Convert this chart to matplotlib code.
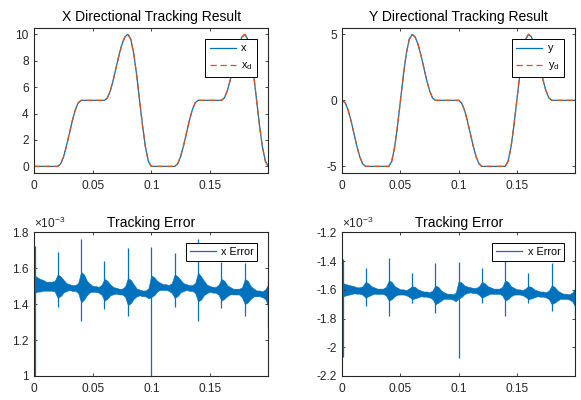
import numpy as np
import matplotlib
matplotlib.use("Agg")
import matplotlib.pyplot as plt
from matplotlib.lines import Line2D

plt.rcParams['font.family'] = ['Liberation Sans', 'DejaVu Sans']
plt.rcParams['mathtext.fontset'] = 'custom'
plt.rcParams['mathtext.rm'] = 'Liberation Sans'
plt.rcParams['mathtext.it'] = 'Liberation Sans'

# ---------------- data ----------------
# sample grid for the tracking curves, step 0.0025 s
t = np.arange(81) * 0.0025

x_ref = [0, 0, 0, 0, 0, 0, 0, 0,
         0, 0.19, 0.73, 1.545, 2.5, 3.455, 4.27, 4.81,
         5, 5, 5, 5, 5, 5, 5, 5,
         5, 5.19, 5.73, 6.545, 7.5, 8.455, 9.27, 9.81,
         10, 9.62, 8.54, 6.91, 5, 3.09, 1.46, 0.38,
         0, 0, 0, 0, 0, 0, 0, 0,
         0, 0.19, 0.73, 1.545, 2.5, 3.455, 4.27, 4.81,
         5, 5, 5, 5, 5, 5, 5, 5,
         5, 5.19, 5.73, 6.545, 7.5, 8.455, 9.27, 9.81,
         10, 9.62, 8.54, 6.91, 5, 3.09, 1.46, 0.38,
         0]
x_out = list(x_ref)  # output overlaps the reference (error ~1e-3)

y_ref = [0, -0.19, -0.73, -1.545, -2.5, -3.455, -4.27, -4.81,
         -5, -5, -5, -5, -5, -5, -5, -5,
         -5, -4.62, -3.54, -1.91, 0, 1.91, 3.54, 4.62,
         5, 4.81, 4.27, 3.455, 2.5, 1.545, 0.73, 0.19,
         0, 0, 0, 0, 0, 0, 0, 0,
         0, -0.19, -0.73, -1.545, -2.5, -3.455, -4.27, -4.81,
         -5, -5, -5, -5, -5, -5, -5, -5,
         -5, -4.62, -3.54, -1.91, 0, 1.91, 3.54, 4.62,
         5, 4.81, 4.27, 3.455, 2.5, 1.545, 0.73, 0.19,
         0, 0, 0, 0, 0, 0, 0, 0,
         0]
y_out = list(y_ref)

# tracking errors (units of 1e-3): centre and half-width of the noise band
ex_center = [1.51, 1.51, 1.505, 1.505, 1.50, 1.50, 1.50, 1.50,
             1.50, 1.50, 1.50, 1.495, 1.495, 1.49, 1.49, 1.49,
             1.495, 1.495, 1.49, 1.49, 1.485, 1.485, 1.48, 1.48,
             1.48, 1.48, 1.48, 1.475, 1.475, 1.47, 1.47, 1.47,
             1.47, 1.47, 1.47, 1.465, 1.465, 1.46, 1.46, 1.46,
             1.50, 1.50, 1.50, 1.50, 1.495, 1.495, 1.49, 1.49,
             1.50, 1.50, 1.50, 1.495, 1.495, 1.49, 1.49, 1.49,
             1.495, 1.49, 1.49, 1.485, 1.485, 1.48, 1.48, 1.48,
             1.48, 1.48, 1.475, 1.475, 1.47, 1.47, 1.47, 1.465,
             1.47, 1.47, 1.465, 1.465, 1.46, 1.46, 1.455, 1.455,
             1.45]
ex_half = [0.05, 0.04, 0.035, 0.03, 0.025, 0.025, 0.025, 0.03,
           0.065, 0.055, 0.035, 0.022, 0.016, 0.016, 0.016, 0.028,
           0.085, 0.07, 0.04, 0.024, 0.016, 0.016, 0.016, 0.028,
           0.06, 0.05, 0.03, 0.02, 0.016, 0.016, 0.016, 0.028,
           0.075, 0.065, 0.04, 0.022, 0.016, 0.016, 0.016, 0.028,
           0.06, 0.05, 0.03, 0.02, 0.016, 0.016, 0.016, 0.028,
           0.065, 0.055, 0.035, 0.022, 0.016, 0.016, 0.016, 0.028,
           0.08, 0.065, 0.04, 0.024, 0.016, 0.016, 0.016, 0.028,
           0.06, 0.05, 0.03, 0.02, 0.016, 0.016, 0.016, 0.028,
           0.07, 0.06, 0.035, 0.022, 0.016, 0.016, 0.016, 0.028,
           0.06]
ey_center = [-1.60, -1.60, -1.60, -1.60, -1.60, -1.605, -1.605, -1.605,
             -1.60, -1.60, -1.605, -1.605, -1.61, -1.61, -1.61, -1.61,
             -1.605, -1.605, -1.61, -1.61, -1.615, -1.615, -1.62, -1.62,
             -1.62, -1.62, -1.625, -1.625, -1.63, -1.63, -1.635, -1.635,
             -1.635, -1.635, -1.64, -1.64, -1.645, -1.645, -1.65, -1.65,
             -1.60, -1.60, -1.60, -1.60, -1.60, -1.605, -1.605, -1.605,
             -1.60, -1.60, -1.605, -1.605, -1.61, -1.61, -1.61, -1.61,
             -1.605, -1.605, -1.61, -1.61, -1.615, -1.615, -1.62, -1.62,
             -1.62, -1.62, -1.625, -1.625, -1.63, -1.63, -1.635, -1.635,
             -1.635, -1.635, -1.64, -1.64, -1.645, -1.645, -1.65, -1.65,
             -1.655]
ey_half = [0.05, 0.04, 0.035, 0.03, 0.025, 0.022, 0.022, 0.03,
           0.055, 0.045, 0.03, 0.022, 0.018, 0.018, 0.018, 0.03,
           0.07, 0.06, 0.035, 0.024, 0.018, 0.018, 0.018, 0.03,
           0.045, 0.04, 0.028, 0.02, 0.018, 0.018, 0.018, 0.03,
           0.065, 0.055, 0.035, 0.022, 0.018, 0.018, 0.018, 0.03,
           0.06, 0.05, 0.03, 0.022, 0.018, 0.018, 0.018, 0.03,
           0.055, 0.045, 0.03, 0.022, 0.018, 0.018, 0.018, 0.03,
           0.07, 0.06, 0.035, 0.024, 0.018, 0.018, 0.018, 0.03,
           0.045, 0.04, 0.028, 0.02, 0.018, 0.018, 0.018, 0.03,
           0.065, 0.055, 0.035, 0.022, 0.018, 0.018, 0.018, 0.03,
           0.06]

spike_t = [0.0004, 0.02, 0.04, 0.06, 0.08, 0.1, 0.12, 0.14, 0.16, 0.18, 0.1996]
ex_spike_hi = [1.725, 1.69, 1.76, 1.64, 1.715, 1.72, 1.685, 1.76, 1.635, 1.63, 1.53]
ex_spike_lo = [0.95, 1.385, 1.305, 1.375, 1.335, 0.95, 1.385, 1.305, 1.38, 1.335, 1.265]
ey_spike_hi = [-1.385, -1.445, -1.38, -1.485, -1.415, -1.41, -1.445, -1.38, -1.48, -1.415, -1.585]
ey_spike_lo = [-2.065, -1.715, -1.785, -1.69, -1.76, -2.075, -1.69, -1.785, -1.69, -1.75, -1.785]

xticks = [0, 0.05, 0.1, 0.15]
xticklabels = ['0', '0.05', '0.1', '0.15']

# ---------------- styling ----------------
BLUE = '#0072BD'
ORANGE = '#D95319'
GRAY = '#262626'
TICK_FS = 8.6
TITLE_FS = 10
LEG_FS = 7.8

fig = plt.figure(figsize=(5.81, 4.0), dpi=100)
W, H = 581.0, 400.0

def make_ax(l, r, top, bot):
    return fig.add_axes([l / W, 1 - bot / H, (r - l) / W, (bot - top) / H])

ax_tl = make_ax(34.3, 268.3, 27.7, 173.0)
ax_tr = make_ax(342.3, 575.0, 27.7, 173.0)
ax_bl = make_ax(34.3, 268.3, 232.3, 376.0)
ax_br = make_ax(342.3, 575.0, 232.3, 376.0)

def style(ax, yticks, ylabels):
    ax.set_xlim(0, 0.2)
    ax.set_xticks(xticks)
    ax.set_xticklabels(xticklabels)
    ax.set_yticks(yticks)
    ax.set_yticklabels(ylabels)
    ax.tick_params(direction='in', length=2.5, width=0.6, colors=GRAY,
                   labelsize=TICK_FS, top=True, right=True)
    ax.tick_params(axis='x', pad=5)
    ax.tick_params(axis='y', pad=4)
    for s in ax.spines.values():
        s.set_color(GRAY)
        s.set_linewidth(0.8)

def leg(ax, handles, labels, spacing=0.45, bpad=0.35):
    lg = ax.legend(handles, labels, loc='upper right', fontsize=LEG_FS,
                   fancybox=False, framealpha=1, edgecolor='black',
                   borderaxespad=1.0, handlelength=2.4, handletextpad=0.5,
                   borderpad=bpad, labelspacing=spacing)
    lg.get_frame().set_linewidth(0.7)
    return lg

# top-left
ax = ax_tl
h1, = ax.plot(t, x_out, color=BLUE, lw=0.9)
h2, = ax.plot(t, x_ref, color=ORANGE, lw=0.9, ls=(0, (5, 3)))
ax.set_ylim(-0.5, 10.5)
style(ax, [0, 2, 4, 6, 8, 10], ['0', '2', '4', '6', '8', '10'])
ax.set_title('X Directional Tracking Result', fontsize=TITLE_FS, color='black', pad=5)
leg(ax, [h1, h2], ['x', 'x$_\\mathrm{d}$'], spacing=0.65, bpad=0.45)

# top-right
ax = ax_tr
h1, = ax.plot(t, y_out, color=BLUE, lw=0.9)
h2, = ax.plot(t, y_ref, color=ORANGE, lw=0.9, ls=(0, (5, 3)))
ax.set_ylim(-5.5, 5.5)
style(ax, [-5, 0, 5], ['-5', '0', '5'])
ax.set_title('Y Directional Tracking Result', fontsize=TITLE_FS, color='black', pad=5)
leg(ax, [h1, h2], ['y', 'y$_\\mathrm{d}$'], spacing=0.65, bpad=0.45)

# bottom-left
ax = ax_bl
c = np.array(ex_center); hw = np.array(ex_half)
ax.fill_between(t, c - hw, c + hw, color=BLUE, lw=0.4, edgecolor=BLUE)
ax.vlines(spike_t, ex_spike_lo, ex_spike_hi, color=BLUE, lw=0.9)
ax.set_ylim(1.0, 1.8)
style(ax, [1.0, 1.2, 1.4, 1.6, 1.8], ['1', '1.2', '1.4', '1.6', '1.8'])
ax.set_title('Tracking Error', fontsize=TITLE_FS, color='black', pad=4)
ax.text(0.0, 1.01, '×10$^{-3}$', transform=ax.transAxes, fontsize=TICK_FS,
        color=GRAY, ha='left', va='bottom')
leg(ax, [Line2D([], [], color=BLUE, lw=0.9)], ['x Error'])

# bottom-right
ax = ax_br
c = np.array(ey_center); hw = np.array(ey_half)
ax.fill_between(t, c - hw, c + hw, color=BLUE, lw=0.4, edgecolor=BLUE)
ax.vlines(spike_t, ey_spike_lo, ey_spike_hi, color=BLUE, lw=0.9)
ax.set_ylim(-2.2, -1.2)
style(ax, [-2.2, -2.0, -1.8, -1.6, -1.4, -1.2],
      ['-2.2', '-2', '-1.8', '-1.6', '-1.4', '-1.2'])
ax.set_title('Tracking Error', fontsize=TITLE_FS, color='black', pad=4)
ax.text(0.0, 1.01, '×10$^{-3}$', transform=ax.transAxes, fontsize=TICK_FS,
        color=GRAY, ha='left', va='bottom')
leg(ax, [Line2D([], [], color=BLUE, lw=0.9)], ['x Error'])

fig.savefig('out.png', dpi=100)
